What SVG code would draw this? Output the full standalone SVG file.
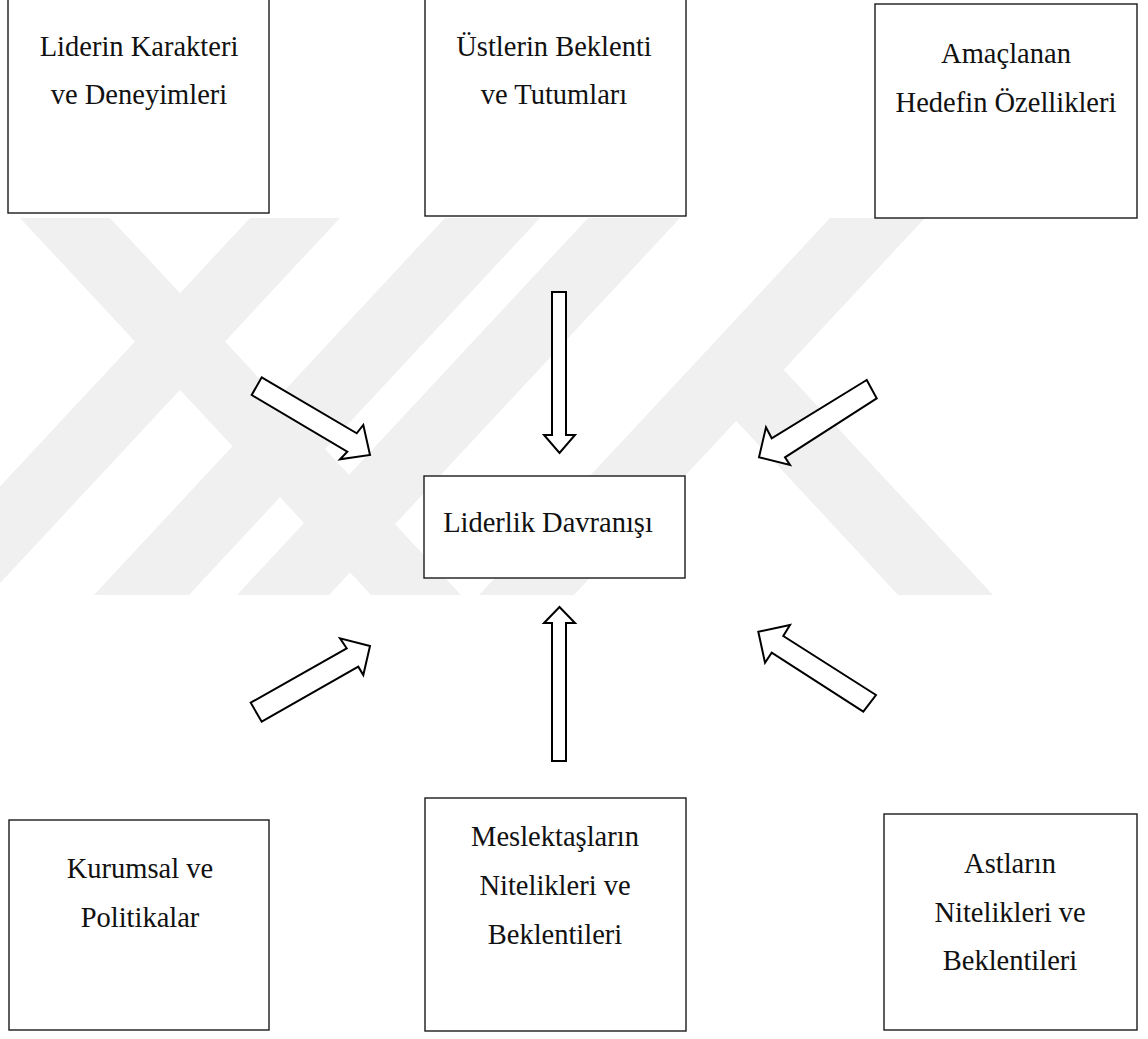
<svg xmlns="http://www.w3.org/2000/svg" width="1148" height="1039" viewBox="0 0 1148 1039">
  <defs>
    <style>
      .wm { fill: #f0f0f0; }
      .box { fill: #ffffff; stroke: #1a1a1a; stroke-width: 1.4; }
      .lbl { font-family: "Liberation Serif", "Times New Roman", serif; font-size: 28.5px; fill: #111111; text-anchor: middle; }
      .arw { fill: #ffffff; stroke: #000000; stroke-width: 2; stroke-linejoin: miter; }
    </style>
    <clipPath id="wmClip">
      <rect x="0" y="218" width="1148" height="377"/>
    </clipPath>
  </defs>

  <rect x="0" y="0" width="1148" height="1039" fill="#ffffff"/>

  <!-- faint background emblem made of slanted bands -->
  <g id="watermark" clip-path="url(#wmClip)">
    <polygon class="wm" points="20,218 110,218 461,595 371,595"/>
    <polygon class="wm" points="250,218 340,218 -11,595 -101,595"/>
    <polygon class="wm" points="445,218 540,218 189,595 94,595"/>
    <polygon class="wm" points="588,218 680,218 329,595 237,595"/>
    <polygon class="wm" points="830,218 925,218 574,595 479,595"/>
    <polygon class="wm" points="689,370 784,370 993,595 898,595"/>
  </g>

  <!-- connectors: block arrows pointing at the central box -->
  <g id="connectors">
    <polygon class="arw" points="552,292 566,292 566,435 575,435 559.5,453 544,435 552,435"/>
    <polygon class="arw" points="552,761 566,761 566,623 575,623 559.5,607 544,623 552,623"/>
    <polygon class="arw" points="261.7,377.3 356.7,433.3 363.3,425 370,455 340,459.3 347.3,451.7 251.7,395"/>
    <polygon class="arw" points="866.7,380 771.7,438.3 766,427.3 759,457.3 790,465 785,457.3 876.7,398.3"/>
    <polygon class="arw" points="250.7,702.7 346.7,648.3 340,638.3 370,646 363.3,675 358.3,666.7 261.7,721.7"/>
    <polygon class="arw" points="876,695 783.3,636 790,625 758.3,631.7 765,662.7 771.7,652.7 863.3,711.7"/>
  </g>

  <g id="node-lider-karakter">
    <rect class="box" x="8" y="-2" width="261" height="215"/>
    <text class="lbl" x="139" y="56">Liderin Karakteri</text>
    <text class="lbl" x="139" y="104">ve Deneyimleri</text>
  </g>

  <g id="node-ustler">
    <rect class="box" x="425" y="-2" width="261" height="218"/>
    <text class="lbl" x="554" y="56">Üstlerin Beklenti</text>
    <text class="lbl" x="554" y="104">ve Tutumları</text>
  </g>

  <g id="node-hedef">
    <rect class="box" x="875" y="4" width="262" height="214"/>
    <text class="lbl" x="1006" y="63">Amaçlanan</text>
    <text class="lbl" x="1006" y="112">Hedefin Özellikleri</text>
  </g>

  <g id="node-liderlik">
    <rect class="box" x="424" y="476" width="261" height="102"/>
    <text class="lbl" x="548" y="532">Liderlik Davranışı</text>
  </g>

  <g id="node-kurumsal">
    <rect class="box" x="9" y="820" width="260" height="210"/>
    <text class="lbl" x="140" y="878">Kurumsal ve</text>
    <text class="lbl" x="140" y="927">Politikalar</text>
  </g>

  <g id="node-meslektas">
    <rect class="box" x="425" y="798" width="261" height="233"/>
    <text class="lbl" x="555" y="846">Meslektaşların</text>
    <text class="lbl" x="555" y="895">Nitelikleri ve</text>
    <text class="lbl" x="555" y="944">Beklentileri</text>
  </g>

  <g id="node-astlar">
    <rect class="box" x="884" y="814" width="253" height="216"/>
    <text class="lbl" x="1010" y="873">Astların</text>
    <text class="lbl" x="1010" y="922">Nitelikleri ve</text>
    <text class="lbl" x="1010" y="970">Beklentileri</text>
  </g>
</svg>
